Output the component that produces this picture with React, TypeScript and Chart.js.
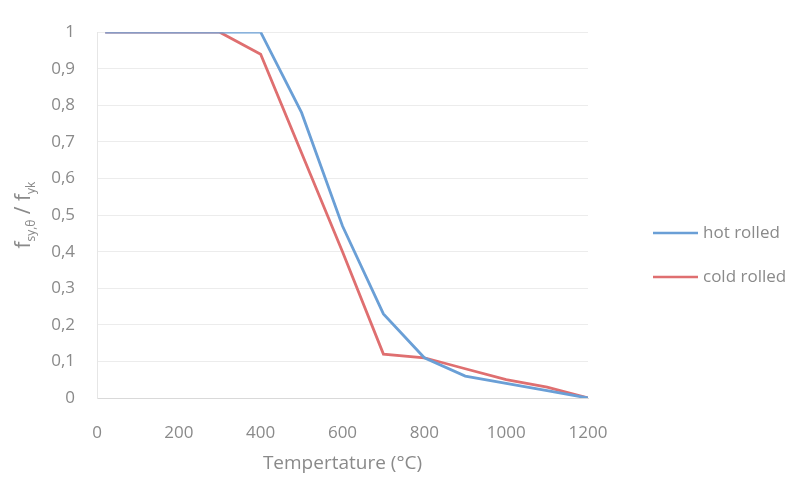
import React, { useEffect, useRef } from "react";
import { Chart, registerables } from "chart.js";

Chart.register(...registerables);

const temperatures = [20, 100, 200, 300, 400, 500, 600, 700, 800, 900, 1000, 1100, 1200];
const hotRolled = [1, 1, 1, 1, 1, 0.78, 0.47, 0.23, 0.11, 0.06, 0.04, 0.02, 0];
const coldRolled = [1, 1, 1, 1, 0.94, 0.67, 0.4, 0.12, 0.11, 0.08, 0.05, 0.03, 0];
const seriesNames = ["hot rolled", "cold rolled"];
const seriesColors = ["#6a9fd6", "#df6f70"];
const xTitle = "Tempertature (°C)";

const FONT = "'Open Sans', 'DejaVu Sans', sans-serif";
const TEXT = "#8a8a8a";

const overlay = {
  id: "overlay",
  afterDraw(chart: any) {
    const ctx = chart.ctx as CanvasRenderingContext2D;
    const { top, bottom } = chart.chartArea;
    // legend
    ctx.save();
    const items = chart.data.datasets;
    const ys = [233, 277];
    items.forEach((ds: any, i: number) => {
      const y = ys[i];
      ctx.strokeStyle = ds.borderColor;
      ctx.lineWidth = 2.5;
      ctx.beginPath();
      ctx.moveTo(653, y);
      ctx.lineTo(698, y);
      ctx.stroke();
      ctx.fillStyle = TEXT;
      ctx.font = `17px ${FONT}`;
      ctx.textAlign = "left";
      ctx.textBaseline = "middle";
      ctx.fillText(ds.label, 703, y);
    });
    ctx.restore();

    // y title with subscripts
    ctx.save();
    const cy = (top + bottom) / 2;
    ctx.translate(30, cy);
    ctx.rotate(-Math.PI / 2);
    ctx.fillStyle = TEXT;
    ctx.textBaseline = "alphabetic";
    const big = `21px ${FONT}`;
    const small = `12px ${FONT}`;
    const parts: [string, string, number][] = [
      ["f", big, 0],
      ["sy,θ", small, 5],
      [" / ", big, 0],
      ["f", big, 0],
      ["yk", small, 5],
    ];
    let total = 0;
    parts.forEach(([t, f]) => {
      ctx.font = f;
      total += ctx.measureText(t).width;
    });
    let x = -total / 2;
    ctx.textAlign = "left";
    parts.forEach(([t, f, dy]) => {
      ctx.font = f;
      ctx.fillText(t, x, dy);
      x += ctx.measureText(t).width;
    });
    ctx.restore();
  },
};

export default function App() {
  const ref = useRef<HTMLCanvasElement>(null);
  useEffect(() => {
    if (!ref.current) return;
    const chart = new Chart(ref.current, {
      type: "line",
      data: {
        datasets: [
          {
            label: seriesNames[0],
            data: temperatures.map((t, i) => ({ x: t, y: hotRolled[i] })),
            borderColor: seriesColors[0],
            backgroundColor: seriesColors[0],
            borderWidth: 2.8,
            pointRadius: 0,
            tension: 0,
          },
          {
            label: seriesNames[1],
            data: temperatures.map((t, i) => ({ x: t, y: coldRolled[i] })),
            borderColor: seriesColors[1],
            backgroundColor: seriesColors[1],
            borderWidth: 2.8,
            pointRadius: 0,
            tension: 0,
          },
        ],
      },
      options: {
        animation: false,
        responsive: false,
        maintainAspectRatio: false,
        layout: { padding: { left: 0, right: 208, top: 29, bottom: 0 } },
        plugins: {
          legend: { display: false },
          tooltip: { enabled: false },
        },
        scales: {
          x: {
            type: "linear",
            min: 0,
            max: 1200,
            grid: { display: false },
            border: { display: true, color: "#d9d9d9", width: 1 },
            ticks: {
              stepSize: 200,
              color: TEXT,
              font: { family: FONT, size: 17 },
              padding: 17,
              maxRotation: 0,
              callback: (v: any) => String(v),
            },
            title: {
              display: true,
              text: xTitle,
              color: TEXT,
              font: { family: FONT, size: 19 },
              padding: { top: 0, bottom: 4 },
            },
            afterFit: (s: any) => {
              s.height = 81;
            },
          },
          y: {
            type: "linear",
            min: 0,
            max: 1,
            grid: { color: "#ececec", drawTicks: false, lineWidth: 1 },
            border: { display: true, color: "#e6e6e6" },
            ticks: {
              stepSize: 0.1,
              color: TEXT,
              font: { family: FONT, size: 17 },
              padding: 22,
              callback: (v: any) => String(Math.round(Number(v) * 10) / 10).replace(".", ","),
            },
            afterFit: (s: any) => {
              s.width = 97;
            },
          },
        },
      },
      plugins: [overlay],
    });
    return () => chart.destroy();
  }, []);
  return (
    <div style={{ position: "fixed", left: 0, top: 0, width: 796, height: 479, background: "#fff" }}>
      <canvas ref={ref} width={796} height={479} style={{ display: "block" }} />
    </div>
  );
}
